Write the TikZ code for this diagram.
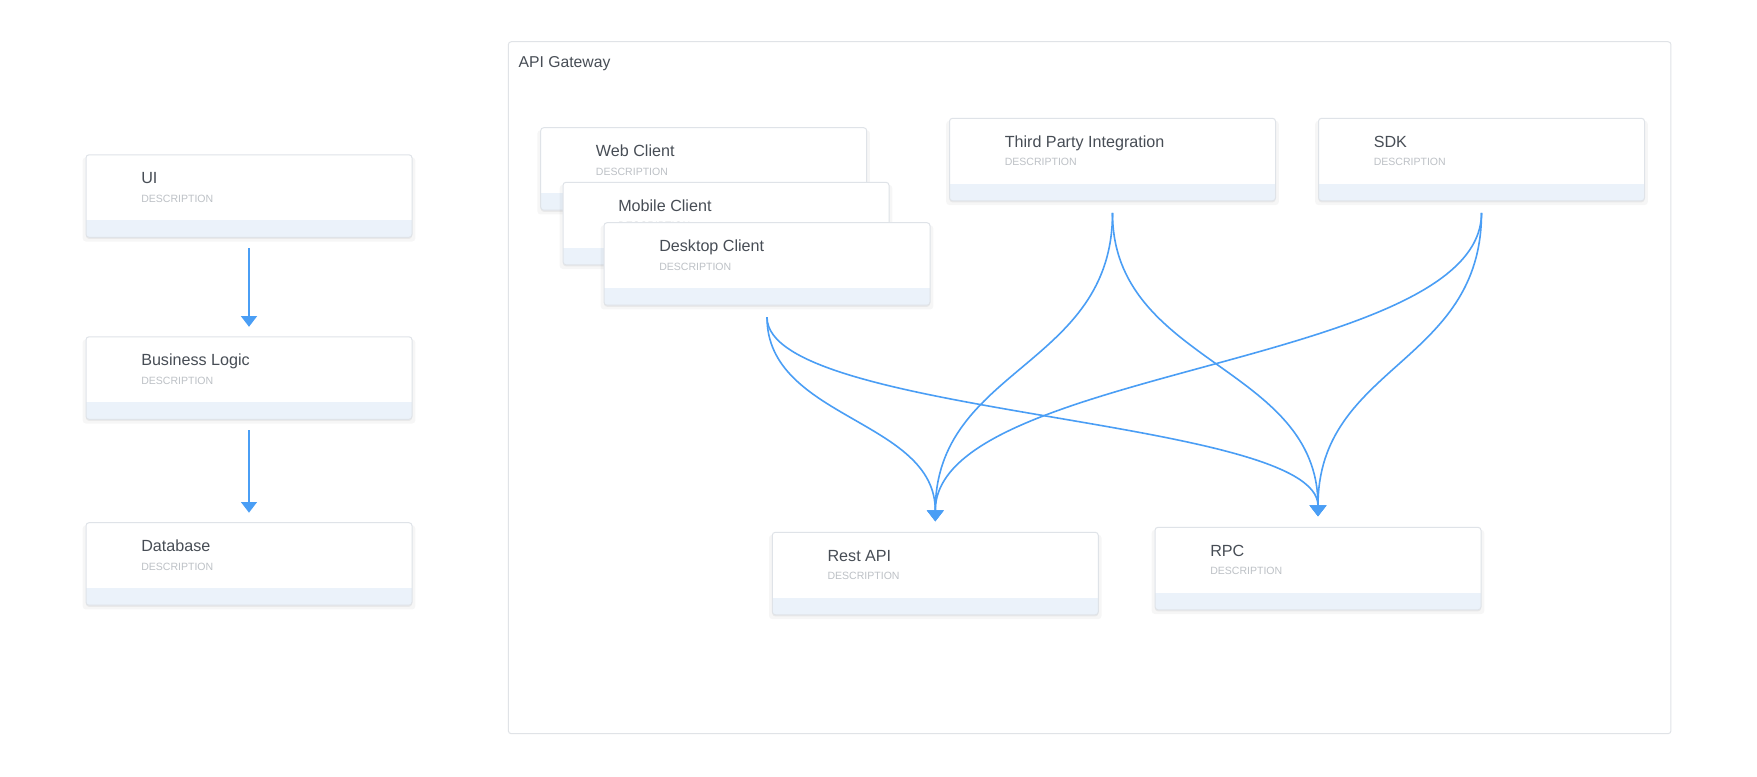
\documentclass[tikz,border=0pt]{standalone}
\usepackage{fontspec}
\setmainfont{Liberation Sans}
\usetikzlibrary{arrows.meta,calc,shadows}
\definecolor{bordc}{HTML}{DFE3E8}
\definecolor{bandc}{HTML}{EBF2FA}
\definecolor{titlec}{HTML}{474D55}
\definecolor{descc}{HTML}{BDC1C6}
\definecolor{linkc}{HTML}{4A9EF5}
\definecolor{groupc}{HTML}{E0E3E7}

\tikzset{
  cardbox/.style={anchor=north west, minimum width=244.5pt, minimum height=61.875pt,
    inner sep=0pt, outer sep=0pt, fill=white, rounded corners=2.25pt,
    drop shadow={shadow xshift=0pt, shadow yshift=-2.5pt, opacity=0.035, fill=black, shadow scale=1.02},
    drop shadow={shadow xshift=0pt, shadow yshift=-1.2pt, opacity=0.05, fill=black}},
  cardtitle/.style={anchor=base west, inner sep=0pt, text=titlec, font=\fontsize{12.1pt}{14pt}\selectfont},
  carddesc/.style={anchor=base west, inner sep=0pt, text=descc, font=\fontsize{7.9pt}{9pt}\selectfont},
  cardline/.style={draw=bordc, line width=0.75pt, rounded corners=2.25pt},
  groupbox/.style={anchor=north west, draw=groupc, line width=0.75pt, rounded corners=2.25pt,
    minimum width=872pt, minimum height=519pt, inner sep=0pt, outer sep=0pt},
  grouplabel/.style={anchor=base west, inner sep=0pt, text=titlec, font=\fontsize{11.8pt}{14pt}\selectfont},
  straightlink/.style={draw=linkc, line width=1.5pt, -{Triangle[width=11.8pt, length=8pt]}},
  curvelink/.style={draw=linkc, line width=1.2pt, -{Triangle[width=12.5pt, length=8.25pt]}},
}

\newcommand\mycard[4]{%
  \node[cardbox] (#1) at (#2,#3) {};
  \begin{scope}
    \clip[rounded corners=2.25pt] (#1.north west) rectangle (#1.south east);
    \fill[bandc] ($(#1.south west)+(0,-17)$) rectangle (#1.south east);
  \end{scope}
  \draw[cardline] (#1.north west) rectangle (#1.south east);
  \node[cardtitle] (#1T) at ($(#1.north west)+(55,29)$) {#4};
  \node[carddesc] (#1D) at ($(#1.north west)+(55,47.5)$) {DESCRIPTION};
}

\newcommand\mycurve[2]{%
  \coordinate (#1#2s) at ($(#1.south)+(0,12)$);
  \coordinate (#1#2e) at ($(#2.north)+(0,-11)$);
  \coordinate (#1#2m) at ($(#1#2s)!0.5!(#1#2e)$);
  \draw[curvelink] (#1#2s) .. controls (#1#2s |- #1#2m) and (#1#2e |- #1#2m) .. (#1#2e);
}

\begin{document}
\begin{tikzpicture}[x=0.75pt, y=-0.75pt]
\useasboundingbox[fill=white] (0,0) rectangle (1757,776);

% group
\node[groupbox] (gw) at (508.3,41.7) {};
\node[grouplabel] (gwlabel) at (518.3,67.7) {API Gateway};

% cards
\mycard{web}{540.7}{127.7}{Web Client}
\mycard{mobile}{563}{182.3}{Mobile Client}
\mycard{desk}{604}{222.7}{Desktop Client}
\mycard{third}{949.5}{118.3}{Third Party Integration}
\mycard{sdk}{1318.5}{118.3}{SDK}
\mycard{rest}{772.3}{532.3}{Rest API}
\mycard{rpc}{1155}{527.3}{RPC}
\mycard{ui}{86}{154.8}{UI}
\mycard{bl}{86}{336.8}{Business Logic}
\mycard{db}{86}{522.7}{Database}

% left chain
\draw[straightlink, shorten <=8.25pt, shorten >=7.5pt] (ui.south) -- (bl.north);
\draw[straightlink, shorten <=8.25pt, shorten >=7.5pt] (bl.south) -- (db.north);

% curves
\mycurve{desk}{rest}
\mycurve{desk}{rpc}
\mycurve{third}{rest}
\mycurve{third}{rpc}
\mycurve{sdk}{rest}
\mycurve{sdk}{rpc}
\end{tikzpicture}
\end{document}
